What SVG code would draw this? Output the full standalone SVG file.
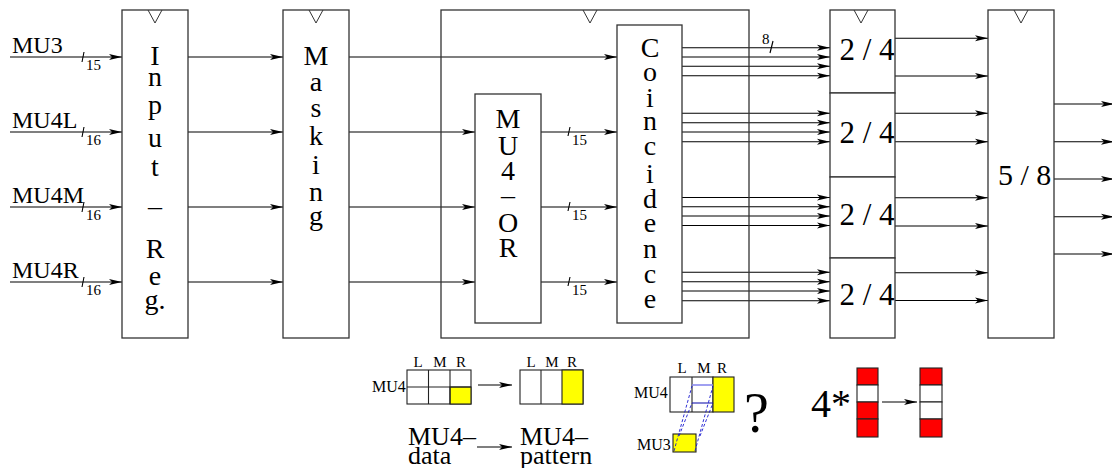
<svg xmlns="http://www.w3.org/2000/svg" width="1112" height="468" viewBox="0 0 1112 468">
<defs>
<marker id="ah" markerWidth="14" markerHeight="8" refX="13" refY="4" orient="auto" markerUnits="userSpaceOnUse"><path d="M0,1 L13,4 L0,7 L3,4 Z" fill="#000"/></marker>
</defs>
<style>
.box{fill:#fff;stroke:#333;stroke-width:1.3}
.ln{stroke:#000;stroke-width:1.1;fill:none}
.arr{stroke:#000;stroke-width:1.1;fill:none;marker-end:url(#ah)}
.tri{fill:none;stroke:#333;stroke-width:1}
text{font-family:Liberation Serif, DejaVu Serif, Times New Roman, serif;fill:#000}
.big{font-size:28px;text-anchor:middle}
.lab{font-size:24px}
.sub{font-size:15px}
.maj{font-size:31px;text-anchor:middle}
.sm{font-size:15px;text-anchor:middle}
.cell{stroke:#222;stroke-width:1.1}
.dash{stroke:#1a1ad0;stroke-width:0.9;stroke-dasharray:3,2;fill:none}
</style>

<g id="connectors">
<line class="arr" x1="10" y1="57" x2="122" y2="57"/>
<line class="arr" x1="10" y1="132" x2="122" y2="132"/>
<line class="arr" x1="10" y1="207" x2="122" y2="207"/>
<line class="arr" x1="10" y1="282" x2="122" y2="282"/>
<line class="ln" x1="82" y1="62" x2="84" y2="52"/>
<line class="ln" x1="82" y1="137" x2="84" y2="127"/>
<line class="ln" x1="82" y1="212" x2="84" y2="202"/>
<line class="ln" x1="82" y1="287" x2="84" y2="277"/>
<line class="arr" x1="188" y1="57" x2="283" y2="57"/>
<line class="arr" x1="188" y1="132" x2="283" y2="132"/>
<line class="arr" x1="188" y1="207" x2="283" y2="207"/>
<line class="arr" x1="188" y1="282" x2="283" y2="282"/>
<line class="arr" x1="349" y1="57" x2="617" y2="57"/>
<line class="arr" x1="349" y1="132" x2="475" y2="132"/>
<line class="arr" x1="349" y1="207" x2="475" y2="207"/>
<line class="arr" x1="349" y1="282" x2="475" y2="282"/>
<line class="arr" x1="541" y1="132" x2="617" y2="132"/>
<line class="arr" x1="541" y1="207" x2="617" y2="207"/>
<line class="arr" x1="541" y1="282" x2="617" y2="282"/>
<line class="ln" x1="568" y1="136" x2="570" y2="127"/>
<line class="ln" x1="568" y1="211" x2="570" y2="202"/>
<line class="ln" x1="568" y1="286" x2="570" y2="277"/>
<line class="arr" x1="682" y1="47.7" x2="830" y2="47.7"/>
<line class="arr" x1="682" y1="57" x2="830" y2="57"/>
<line class="arr" x1="682" y1="66.3" x2="830" y2="66.3"/>
<line class="arr" x1="682" y1="75.7" x2="830" y2="75.7"/>
<line class="arr" x1="682" y1="113.3" x2="830" y2="113.3"/>
<line class="arr" x1="682" y1="122.7" x2="830" y2="122.7"/>
<line class="arr" x1="682" y1="132" x2="830" y2="132"/>
<line class="arr" x1="682" y1="141.7" x2="830" y2="141.7"/>
<line class="arr" x1="682" y1="197.5" x2="830" y2="197.5"/>
<line class="arr" x1="682" y1="206.8" x2="830" y2="206.8"/>
<line class="arr" x1="682" y1="216" x2="830" y2="216"/>
<line class="arr" x1="682" y1="225.5" x2="830" y2="225.5"/>
<line class="arr" x1="682" y1="272.3" x2="830" y2="272.3"/>
<line class="arr" x1="682" y1="281.8" x2="830" y2="281.8"/>
<line class="arr" x1="682" y1="291" x2="830" y2="291"/>
<line class="arr" x1="682" y1="300.7" x2="830" y2="300.7"/>
<line class="ln" x1="770" y1="53" x2="773" y2="41"/>
<line class="arr" x1="895" y1="38.3" x2="988" y2="38.3"/>
<line class="arr" x1="895" y1="76" x2="988" y2="76"/>
<line class="arr" x1="895" y1="113.3" x2="988" y2="113.3"/>
<line class="arr" x1="895" y1="141.7" x2="988" y2="141.7"/>
<line class="arr" x1="895" y1="197.7" x2="988" y2="197.7"/>
<line class="arr" x1="895" y1="226" x2="988" y2="226"/>
<line class="arr" x1="895" y1="272.7" x2="988" y2="272.7"/>
<line class="arr" x1="895" y1="300.5" x2="988" y2="300.5"/>
<line class="arr" x1="1054" y1="104" x2="1114" y2="104"/>
<line class="arr" x1="1054" y1="141.7" x2="1114" y2="141.7"/>
<line class="arr" x1="1054" y1="179" x2="1114" y2="179"/>
<line class="arr" x1="1054" y1="216.7" x2="1114" y2="216.7"/>
<line class="arr" x1="1054" y1="254" x2="1114" y2="254"/>
</g>

<g id="input-labels">
<text class="lab" x="12" y="53">MU3</text>
<text class="lab" x="12" y="128">MU4L</text>
<text class="lab" x="12" y="203">MU4M</text>
<text class="lab" x="12" y="278">MU4R</text>
<text class="sub" x="86" y="70">15</text>
<text class="sub" x="86" y="145">16</text>
<text class="sub" x="86" y="220">16</text>
<text class="sub" x="86" y="295">16</text>
<text class="sub" x="572" y="145">15</text>
<text class="sub" x="572" y="220">15</text>
<text class="sub" x="572" y="295">15</text>
<text class="sub" x="762" y="44">8</text>
</g>

<g id="input-reg">
<rect class="box" x="122" y="10" width="66" height="328"/>
<polyline class="tri" points="148,10 155,23 162,10"/>
<text class="big" x="155" y="65">I</text>
<text class="big" x="155" y="86">n</text>
<text class="big" x="155" y="114">p</text>
<text class="big" x="155" y="147">u</text>
<text class="big" x="155" y="176">t</text>
<text class="big" x="155" y="215">–</text>
<text class="big" x="155" y="258">R</text>
<text class="big" x="155" y="285">e</text>
<text class="big" x="155" y="309">g.</text>
</g>

<g id="masking">
<rect class="box" x="283" y="10" width="66" height="328"/>
<polyline class="tri" points="309,10 316,23 323,10"/>
<text class="big" x="316" y="65">M</text>
<text class="big" x="316" y="91">a</text>
<text class="big" x="316" y="117">s</text>
<text class="big" x="316" y="145">k</text>
<text class="big" x="316" y="174">i</text>
<text class="big" x="316" y="201">n</text>
<text class="big" x="316" y="225">g</text>
</g>

<g id="coincidence-unit">
<rect x="441" y="10" width="308" height="328" fill="none" stroke="#333" stroke-width="1.3"/>
<polyline class="tri" points="583,10 590,23 597,10"/>
</g>

<g id="mu4-or">
<rect class="box" x="475" y="94" width="66" height="229"/>
<text class="big" x="508" y="128">M</text>
<text class="big" x="508" y="155">U</text>
<text class="big" x="508" y="180">4</text>
<text class="big" x="508" y="204">–</text>
<text class="big" x="508" y="232">O</text>
<text class="big" x="508" y="257">R</text>
</g>

<g id="coincidence">
<rect class="box" x="617" y="25" width="65" height="298"/>
<text class="big" x="650" y="57">C</text>
<text class="big" x="650" y="81">o</text>
<text class="big" x="650" y="107">i</text>
<text class="big" x="650" y="130">n</text>
<text class="big" x="650" y="155">c</text>
<text class="big" x="650" y="183">i</text>
<text class="big" x="650" y="208">d</text>
<text class="big" x="650" y="232">e</text>
<text class="big" x="650" y="258">n</text>
<text class="big" x="650" y="283">c</text>
<text class="big" x="650" y="308">e</text>
</g>

<g id="maj24-1">
<rect class="box" x="830" y="10" width="65" height="83"/>
<polyline class="tri" points="854,10 861,23 868,10"/>
<text class="maj" x="867" y="60">2 / 4</text>
</g>
<g id="maj24-2">
<rect class="box" x="830" y="93" width="65" height="84"/>
<text class="maj" x="867" y="143">2 / 4</text>
</g>
<g id="maj24-3">
<rect class="box" x="830" y="177" width="65" height="81"/>
<text class="maj" x="867" y="225">2 / 4</text>
</g>
<g id="maj24-4">
<rect class="box" x="830" y="258" width="65" height="80"/>
<text class="maj" x="867" y="305">2 / 4</text>
</g>

<g id="maj58">
<rect class="box" x="988" y="10" width="66" height="328"/>
<polyline class="tri" points="1014,10 1021,23 1028,10"/>
<text x="998" y="185" font-size="30">5 / 8</text>
</g>

<g id="legend-pattern">
<rect x="407" y="370" width="64" height="34" fill="#fff" class="cell"/>
<rect x="450" y="387" width="21" height="17" fill="#ffff00" class="cell"/>
<line class="cell" x1="428.5" y1="370" x2="428.5" y2="404"/>
<line class="cell" x1="450" y1="370" x2="450" y2="404"/>
<line class="cell" x1="407" y1="387" x2="471" y2="387"/>
<text class="sm" x="418" y="367">L</text>
<text class="sm" x="440" y="367">M</text>
<text class="sm" x="461" y="367">R</text>
<text x="372" y="392" font-size="16">MU4</text>
<line class="arr" x1="478" y1="385" x2="512" y2="385"/>
<rect x="520" y="370" width="63" height="34" fill="#fff" class="cell"/>
<rect x="562" y="370" width="21" height="34" fill="#ffff00" class="cell"/>
<line class="cell" x1="541" y1="370" x2="541" y2="404"/>
<text class="sm" x="531" y="367">L</text>
<text class="sm" x="552" y="367">M</text>
<text class="sm" x="572" y="367">R</text>
<text x="408" y="445" font-size="26">MU4–</text>
<text x="408" y="464" font-size="26">data</text>
<line class="arr" x1="477" y1="447" x2="512" y2="447"/>
<text x="520" y="445" font-size="26">MU4–</text>
<text x="520" y="464" font-size="26">pattern</text>
</g>

<g id="legend-overlap">
<text class="sm" x="682" y="373">L</text>
<text class="sm" x="704" y="373">M</text>
<text class="sm" x="722" y="373">R</text>
<text x="634" y="398" font-size="16">MU4</text>
<rect x="670" y="377" width="43" height="35" fill="#fff" class="cell"/>
<rect x="713" y="377" width="21" height="35" fill="#ffff00" class="cell"/>
<line class="cell" x1="692" y1="377" x2="692" y2="412"/>
<line x1="692" y1="385" x2="713" y2="385" stroke="#8888ee" stroke-width="1.6"/>
<line x1="692" y1="403" x2="713" y2="403" stroke="#1a1ab0" stroke-width="1.1"/>
<text x="637" y="450" font-size="16">MU3</text>
<rect x="673" y="434" width="23" height="18" fill="#ffff00" class="cell"/>
<line class="dash" x1="674" y1="451" x2="692" y2="386"/>
<line class="dash" x1="679" y1="436" x2="692" y2="403"/>
<line class="dash" x1="695" y1="451" x2="713" y2="386"/>
<line class="dash" x1="700" y1="436" x2="713" y2="403"/>
<text x="744" y="432" font-size="56">?</text>
</g>

<g id="legend-majority">
<text x="811" y="417" font-size="40">4*</text>
<rect x="857" y="368" width="21" height="17" fill="#ff0000" class="cell"/>
<rect x="857" y="385" width="21" height="17" fill="#fff" class="cell"/>
<rect x="857" y="402" width="21" height="17" fill="#ff0000" class="cell"/>
<rect x="857" y="419" width="21" height="18" fill="#ff0000" class="cell"/>
<line class="arr" x1="882" y1="402" x2="917" y2="402"/>
<rect x="920" y="368" width="22" height="17" fill="#ff0000" class="cell"/>
<rect x="920" y="385" width="22" height="17" fill="#fff" class="cell"/>
<rect x="920" y="402" width="22" height="17" fill="#fff" class="cell"/>
<rect x="920" y="419" width="22" height="18" fill="#ff0000" class="cell"/>
</g>
</svg>
